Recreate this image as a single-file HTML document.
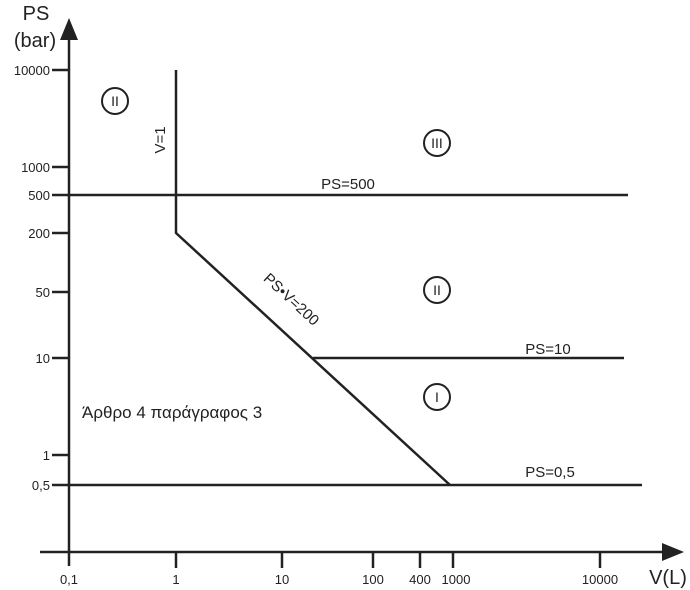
<!DOCTYPE html>
<html><head><meta charset="utf-8"><style>
body{margin:0;background:#fff}
svg{display:block}
text{font-family:"Liberation Sans",sans-serif;fill:#222}
</style></head><body>
<svg width="690" height="590" viewBox="0 0 690 590" xmlns="http://www.w3.org/2000/svg">
<g stroke="#222" stroke-width="2.5" fill="none">
<line x1="69" y1="30" x2="69" y2="566"/>
<line x1="40" y1="552" x2="672" y2="552"/>
<line x1="52" y1="70" x2="69" y2="70"/>
<line x1="52" y1="167" x2="69" y2="167"/>
<line x1="52" y1="195" x2="69" y2="195"/>
<line x1="52" y1="233" x2="69" y2="233"/>
<line x1="52" y1="292" x2="69" y2="292"/>
<line x1="52" y1="358" x2="69" y2="358"/>
<line x1="52" y1="455" x2="69" y2="455"/>
<line x1="52" y1="485" x2="69" y2="485"/>
<line x1="176" y1="552" x2="176" y2="568"/>
<line x1="282" y1="552" x2="282" y2="568"/>
<line x1="373" y1="552" x2="373" y2="568"/>
<line x1="420" y1="552" x2="420" y2="568"/>
<line x1="453" y1="552" x2="453" y2="568"/>
<line x1="600" y1="552" x2="600" y2="568"/>
<line x1="69" y1="195" x2="628" y2="195"/>
<polyline points="176,70 176,233 450,485"/>
<line x1="313" y1="358" x2="624" y2="358"/>
<line x1="69" y1="485" x2="642" y2="485"/>
</g>
<polygon points="69,18 60,40 78,40" fill="#222"/>
<polygon points="684,552 662,543 662,561" fill="#222"/>
<g stroke="#222" stroke-width="2" fill="none">
<circle cx="115" cy="101" r="13"/>
<circle cx="437" cy="143" r="13"/>
<circle cx="437" cy="290" r="13"/>
<circle cx="437" cy="397" r="13"/>
</g>
<g font-size="14" text-anchor="middle">
<text x="115" y="106">II</text>
<text x="437" y="148">III</text>
<text x="437" y="295">II</text>
<text x="437" y="402">I</text>
</g>
<text x="36" y="20" font-size="20" text-anchor="middle">PS</text>
<text x="35" y="47" font-size="20" text-anchor="middle">(bar)</text>
<g font-size="13" text-anchor="end">
<text x="50" y="75">10000</text>
<text x="50" y="172">1000</text>
<text x="50" y="200">500</text>
<text x="50" y="238">200</text>
<text x="50" y="297">50</text>
<text x="50" y="363">10</text>
<text x="50" y="460">1</text>
<text x="50" y="490">0,5</text>
</g>
<g font-size="13" text-anchor="middle">
<text x="69" y="584">0,1</text>
<text x="176" y="584">1</text>
<text x="282" y="584">10</text>
<text x="373" y="584">100</text>
<text x="420" y="584">400</text>
<text x="456" y="584">1000</text>
<text x="600" y="584">10000</text>
</g>
<text x="668" y="584" font-size="20" text-anchor="middle">V(L)</text>
<text x="348" y="189" font-size="15" text-anchor="middle">PS=500</text>
<text x="548" y="354" font-size="15" text-anchor="middle">PS=10</text>
<text x="550" y="477" font-size="15" text-anchor="middle">PS=0,5</text>
<text transform="translate(165,140) rotate(-90)" font-size="15" text-anchor="middle">V=1</text>
<text transform="translate(288,303) rotate(42.6)" font-size="15" text-anchor="middle">PS•V=200</text>
<text x="82" y="418" font-size="17">Άρθρο 4 παράγραφος 3</text>
</svg>
</body></html>
